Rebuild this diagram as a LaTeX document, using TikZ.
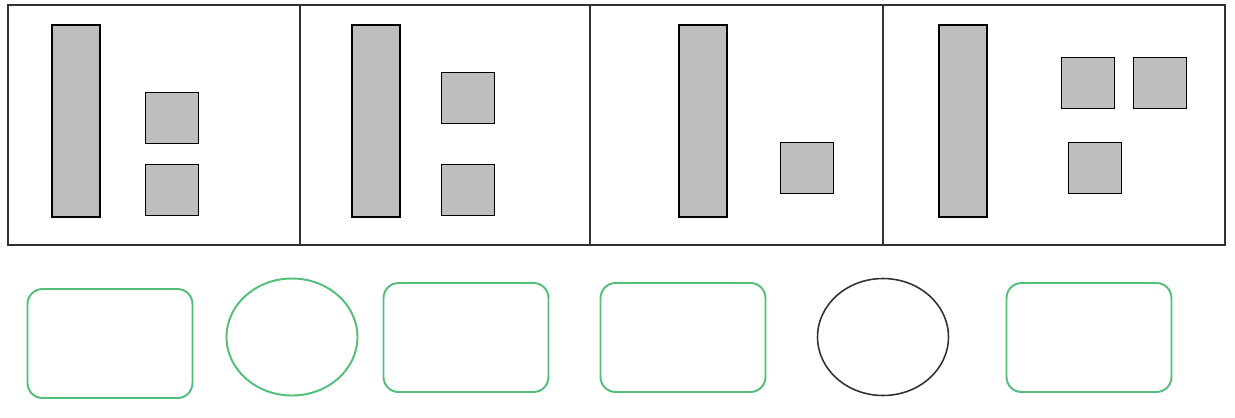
\documentclass[tikz,border=0pt]{standalone}
\usepackage{xcolor}
\usepackage{tikz}
\usetikzlibrary{shapes.geometric,positioning}
\definecolor{slotgreen}{RGB}{82,190,122}
\definecolor{framegray}{RGB}{50,50,50}
\definecolor{blockgray}{RGB}{190,190,190}
\begin{document}
\begin{tikzpicture}[
  x=0.02cm, y=-0.02cm,
  panel/.style={rectangle, draw=framegray, line width=1.1pt, minimum height=4.8cm, inner sep=0pt, outer sep=0pt},
  bar/.style={rectangle, draw=black, line width=1pt, fill=blockgray, minimum width=0.96cm, minimum height=3.84cm, inner sep=0pt},
  sq/.style={rectangle, draw=black, line width=1pt, fill=blockgray, minimum width=1.06cm, minimum height=1.02cm, inner sep=0pt},
  slot/.style={rectangle, rounded corners=0.3cm, draw=slotgreen, line width=1.1pt, minimum width=3.3cm, minimum height=2.18cm, inner sep=0pt},
  oval/.style={ellipse, line width=1.1pt, minimum width=2.62cm, minimum height=2.34cm, inner sep=0pt}
]
\useasboundingbox (0,0) rectangle (1235,417);
\node[panel, minimum width=5.84cm] (p1) at (154,125) {};
\node[panel, minimum width=5.8cm]  (p2) at (445,125) {};
\node[panel, minimum width=5.86cm] (p3) at (736.5,125) {};
\node[panel, minimum width=6.84cm] (p4) at (1054,125) {};
\node[bar] (b1) at (76,121) {};
\node[sq]  (s1a) at (172,118) {};
\node[sq]  (s1b) at (172,190) {};
\node[bar] (b2) at (376,121) {};
\node[sq]  (s2a) at (468,98) {};
\node[sq]  (s2b) at (468,190) {};
\node[bar] (b3) at (703,121) {};
\node[sq]  (s3a) at (807,168) {};
\node[bar] (b4) at (963,121) {};
\node[sq]  (s4a) at (1088,83) {};
\node[sq]  (s4b) at (1160,83) {};
\node[sq]  (s4c) at (1095,168) {};
\node[slot] (r1) at (110,343.5) {};
\node[oval, draw=slotgreen] (e1) at (292,337) {};
\node[slot] (r2) at (466,337.5) {};
\node[slot] (r3) at (683,337.5) {};
\node[oval, draw=framegray, line width=0.9pt] (e2) at (883,337) {};
\node[slot] (r4) at (1089,337.5) {};
\end{tikzpicture}
\end{document}
